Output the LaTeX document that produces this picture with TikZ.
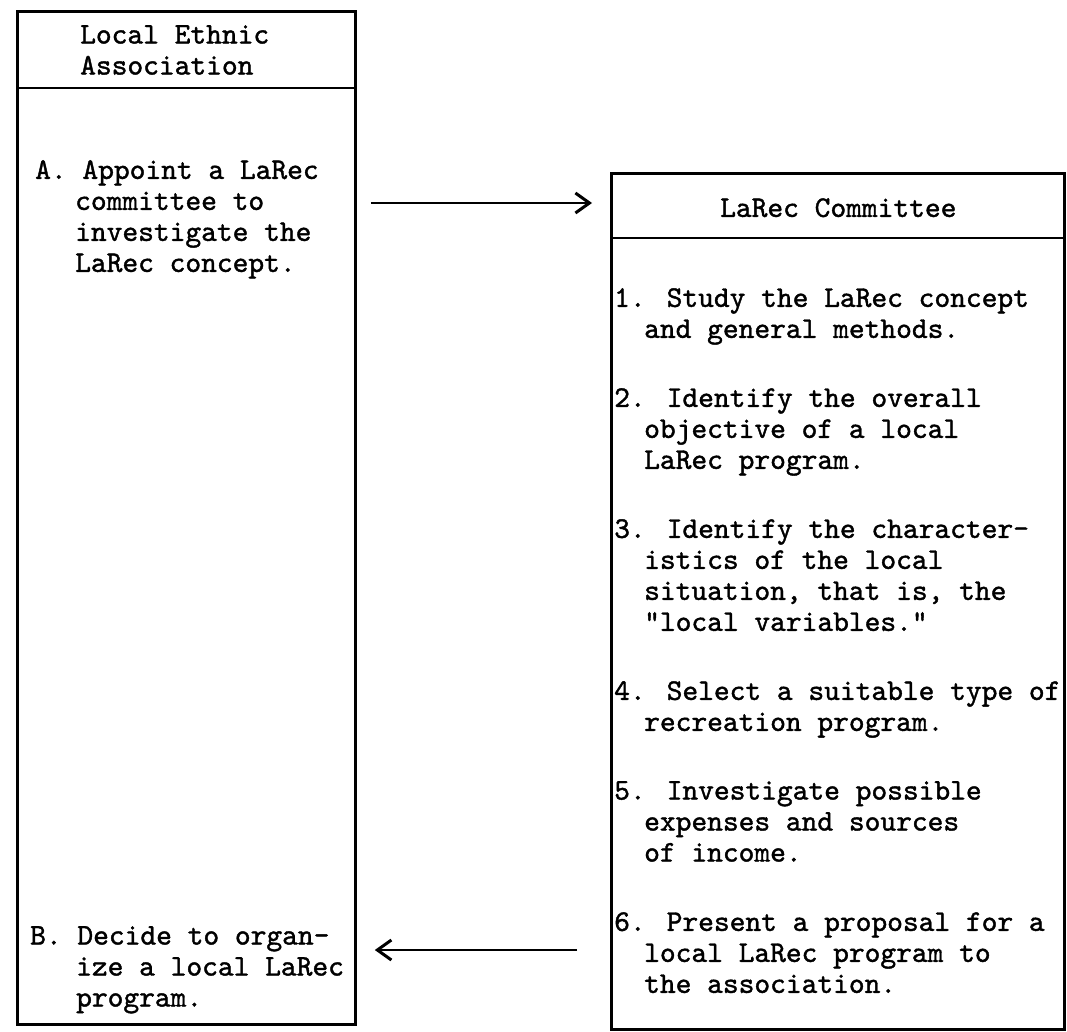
\documentclass[tikz,border=0pt]{standalone}
\usepackage{fontspec}
\newfontfamily\typew[FakeBold=1.3]{lmmono10-regular.otf}
\usetikzlibrary{arrows.meta,positioning}

% typewriter face of the sheet
\newcommand\typesize{\typew\fontsize{30}{31}\selectfont}
\newcommand\indA{\hspace*{40pt}}
\newcommand\indB{\hspace*{46pt}}
\newcommand\indR{\hspace*{30pt}}

\tikzset{
  frame/.style={draw, line width=2.8pt, inner sep=0pt, anchor=north west},
  rule/.style={line width=2.4pt},
  typed/.style={font=\typesize, align=left, inner sep=0pt, anchor=north west,
    execute at begin node=\strut},
  flow/.style={line width=2.4pt, -{Straight Barb[length=14pt,width=20pt,line width=3pt]}}
}

\begin{document}
\begin{tikzpicture}[x=1pt,y=-1pt]
  \useasboundingbox (0,0) rectangle (1067,1032);

  % the two columns
  \node[frame, minimum width=338pt, minimum height=1013pt] (assoc) at (16,10) {};
  \node[frame, minimum width=453pt, minimum height=856pt] (committee) at (610,172) {};
  \coordinate (assocrule) at (0,88);
  \coordinate (commrule) at (0,238);
  \draw[rule] (assoc.west |- assocrule) -- (assoc.east |- assocrule);
  \draw[rule] (committee.west |- commrule) -- (committee.east |- commrule);

  % headings
  \node[typed] (assochead) at (80,25) {Local Ethnic\\Association};
  \node[typed] (commhead) at (720,195) {LaRec Committee};

  % association steps
  \node[typed] (stepA) at (35,160) {A. Appoint a LaRec\\\indA committee to\\\indA investigate the\\\indA LaRec concept.};
  \node[typed] (stepB) at (30,926) {B. Decide to organ-\\\indB ize a local LaRec\\\indB program.};

  % committee steps
  \node[typed] (step1) at (614,288) {1. Study the LaRec concept\\\indR and general methods.};
  \node[typed] (step2) at (614,388) {2. Identify the overall\\\indR objective of a local\\\indR LaRec program.};
  \node[typed] (step3) at (614,519) {3. Identify the character-\\\indR istics of the local\\\indR situation, that is, the\\\indR "local variables."};
  \node[typed] (step4) at (614,681) {4. Select a suitable type of\\\indR recreation program.};
  \node[typed] (step5) at (614,781) {5. Investigate possible\\\indR expenses and sources\\\indR of income.};
  \node[typed] (step6) at (614,912) {6. Present a proposal for a\\\indR local LaRec program to\\\indR the association.};

  % hand-over arrows
  \coordinate (sendrow) at (0,203);
  \coordinate (backrow) at (0,950);
  \draw[flow] ([xshift=14pt]assoc.east |- sendrow) -- ([xshift=-18pt]committee.west |- sendrow);
  \draw[flow] ([xshift=-33pt]committee.west |- backrow) -- ([xshift=18pt]assoc.east |- backrow);
\end{tikzpicture}
\end{document}
